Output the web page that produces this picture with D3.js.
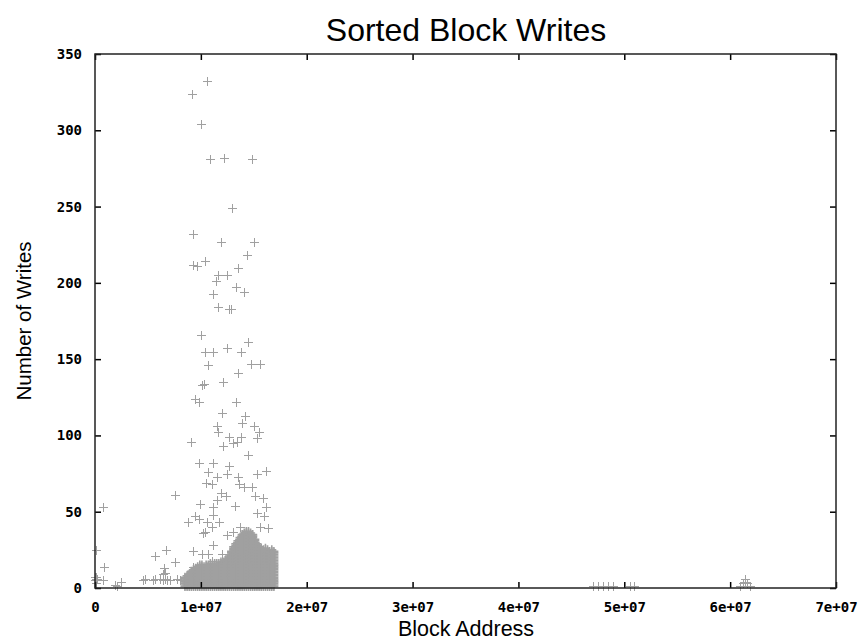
<!DOCTYPE html>
<html>
<head>
<meta charset="utf-8">
<script src="https://cdn.jsdelivr.net/npm/d3@7/dist/d3.min.js"></script>
<style>
  body { margin: 0; background: #fff; }
</style>
</head>
<body>
<div id="chart"></div>
<script>
// block address in millions, number of writes (scattered points)
const outlierAddr = [
  10.6, 9.2, 10.0, 10.9, 12.2, 14.8, 12.9, 9.25, 11.9, 15.0,
  14.4, 9.25, 9.6, 10.4, 13.5, 11.6, 12.5, 11.4, 13.3, 14.1,
  11.1, 11.6, 12.7, 12.85, 10.0, 14.5, 10.4, 11.1, 12.5, 13.8,
  10.7, 14.7, 15.6, 13.5, 12.1, 10.1, 10.3, 9.4, 9.8, 13.3,
  12.0, 14.2, 13.9, 15.0, 11.5, 11.6, 12.65, 13.8, 15.5, 15.3,
  9.06, 12.1, 13.0, 13.4, 14.5, 9.8, 11.1, 12.65, 10.7, 11.5,
  12.5, 13.5, 15.3, 16.2, 10.5, 11.05, 13.6, 14.1, 14.8, 7.55,
  11.9, 11.5, 12.4, 15.1, 15.9, 9.9, 11.1, 13.2, 16.2, 0.76,
  9.4, 11.1, 15.3, 16.0, 9.8, 8.8, 10.6, 11.05, 11.7, 12.5,
  13.0, 13.7, 15.6, 16.3, 10.2, 0.05, 5.7, 6.7, 9.25, 7.6,
  0.85, 6.5, 6.6, 6.4, 4.5, 4.7, 5.5, 5.7, 6.1, 6.4,
  6.6, 6.8, 7.1, 7.7, 8.0, 0.76, 2.5, 2.1, 1.9, 0.05,
  0.0, 0.05, 0.1, 0.15, 0.0, 0.1,
  11.1, 10.1, 10.7, 12.0, 11.05, 9.25, 10.4,
  47.0, 47.5, 48.0, 48.5, 48.9, 50.5, 50.9,
  60.9, 61.2, 61.4, 61.4, 61.6, 61.9
];
const outlierWrites = [
  332, 324, 304, 281, 282, 281, 249, 232, 227, 227,
  218, 212, 211, 214, 210, 205, 205, 201, 197, 194,
  193, 184, 183, 183, 166, 161, 155, 155, 157, 155,
  146, 147, 147, 141, 135, 133, 134, 124, 122, 122,
  115, 113, 108, 106, 106, 102, 99, 99, 102, 98,
  96, 93, 95, 96, 87, 82, 82, 80, 76, 73,
  75, 73, 75, 77, 69, 68, 68, 66, 66, 61,
  62, 58, 60, 60, 59, 55, 53, 54, 53, 53,
  47, 48, 49, 47, 45, 43, 43, 40, 43, 35,
  37, 40, 40, 39, 36, 25, 21, 25, 24, 17,
  14, 13, 10, 9, 5, 6, 5, 6, 6, 5,
  6, 5, 5, 6, 5, 5, 4, 1, 2, 3,
  5, 6, 7, 6, 7, 5,
  28, 22, 22, 22, 18, 14, 37,
  1, 1, 1, 1, 1, 1, 1,
  1, 3, 6, 4, 3, 1
];

// dense band: block address (millions) and highest write count in that column
const clusterAddr = [
  8.5, 8.7, 8.9, 9.1, 9.3, 9.5, 9.7, 9.9, 10.1, 10.3,
  10.5, 10.7, 10.9, 11.1, 11.3, 11.5, 11.7, 11.9, 12.1, 12.3,
  12.5, 12.7, 12.9, 13.1, 13.3, 13.5, 13.7, 13.9, 14.1, 14.3,
  14.5, 14.7, 14.9, 15.1, 15.3, 15.5, 15.7, 15.9, 16.1, 16.3,
  16.5, 16.7, 16.9
];
const clusterTop = [
  7, 8, 9, 11, 12, 13, 14, 15, 15, 14,
  15, 15, 16, 15, 16, 16, 16, 17, 17, 18,
  19, 21, 24, 27, 29, 31, 33, 35, 36, 37,
  37, 36, 35, 32, 29, 27, 26, 25, 26, 25,
  24, 25, 24
];

const xTicks = [0, 1e7, 2e7, 3e7, 4e7, 5e7, 6e7, 7e7];
const yTicks = [0, 50, 100, 150, 200, 250, 300, 350];

const width = 865;
const height = 642;
const plotLeft = 95, plotRight = 836, plotTop = 54, plotBottom = 588;

const svg = d3.select("#chart")
  .append("svg")
  .attr("width", width)
  .attr("height", height);

const x = d3.scaleLinear().domain([0, 7e7]).range([plotLeft, plotRight]);
const y = d3.scaleLinear().domain([0, 350]).range([plotBottom, plotTop]);

const fmt = d => d === 0 ? "0" : (d / 1e7) + "e+07";

const outliers = outlierAddr.map((a, i) => [a * 1e6, outlierWrites[i]]);
const band = [];
clusterAddr.forEach((a, i) => {
  for (let w = 1; w <= clusterTop[i]; w++) band.push([a * 1e6, w]);
});

const cross = "M-4.5,0H4.5M0,-4.5V4.5";

// dense band drawn smooth so the overlapping crosses merge into one grey area
svg.append("g")
  .selectAll("path")
  .data(band)
  .enter()
  .append("path")
  .attr("transform", d => `translate(${x(d[0])},${y(d[1])})`)
  .attr("d", cross)
  .attr("stroke", "#a0a0a0")
  .attr("stroke-width", 1.6)
  .attr("fill", "none");

svg.append("g")
  .attr("shape-rendering", "crispEdges")
  .selectAll("path")
  .data(outliers)
  .enter()
  .append("path")
  .attr("transform", d => `translate(${Math.round(x(d[0])) + 0.5},${Math.round(y(d[1])) + 0.5})`)
  .attr("d", cross)
  .attr("stroke", "#a0a0a0")
  .attr("stroke-width", 1)
  .attr("fill", "none");

// axes with inward ticks, mirrored on top and right
const axisFont = g => g.selectAll("text")
  .attr("font-family", "DejaVu Sans Mono")
  .attr("font-weight", "bold")
  .attr("font-size", 14)
  .attr("fill", "#000");

svg.append("g")
  .attr("transform", `translate(0,${plotBottom})`)
  .call(d3.axisBottom(x).tickValues(xTicks).tickSize(-6).tickPadding(14).tickFormat(fmt))
  .call(g => g.select(".domain").remove())
  .call(axisFont);

svg.append("g")
  .attr("transform", `translate(0,${plotTop})`)
  .call(d3.axisTop(x).tickValues(xTicks).tickSize(-6).tickFormat(""))
  .call(g => g.select(".domain").remove());

svg.append("g")
  .attr("transform", `translate(${plotLeft},0)`)
  .call(d3.axisLeft(y).tickValues(yTicks).tickSize(-6).tickPadding(13))
  .call(g => g.select(".domain").remove())
  .call(axisFont);

svg.append("g")
  .attr("transform", `translate(${plotRight},0)`)
  .call(d3.axisRight(y).tickValues(yTicks).tickSize(-6).tickFormat(""))
  .call(g => g.select(".domain").remove());

svg.selectAll(".tick line").attr("stroke", "#000").attr("stroke-width", 1.5);

svg.append("rect")
  .attr("x", plotLeft)
  .attr("y", plotTop)
  .attr("width", plotRight - plotLeft)
  .attr("height", plotBottom - plotTop)
  .attr("fill", "none")
  .attr("stroke", "#222")
  .attr("stroke-width", 1.5);

svg.append("text")
  .attr("x", 466)
  .attr("y", 41)
  .attr("text-anchor", "middle")
  .attr("font-family", "Liberation Sans")
  .attr("font-size", 32)
  .text("Sorted Block Writes");

svg.append("text")
  .attr("x", 466)
  .attr("y", 636)
  .attr("text-anchor", "middle")
  .attr("font-family", "Liberation Sans")
  .attr("font-size", 21.5)
  .text("Block Address");

svg.append("text")
  .attr("transform", "translate(31,321) rotate(-90)")
  .attr("text-anchor", "middle")
  .attr("font-family", "Liberation Sans")
  .attr("font-size", 20.5)
  .text("Number of Writes");
</script>
</body>
</html>
